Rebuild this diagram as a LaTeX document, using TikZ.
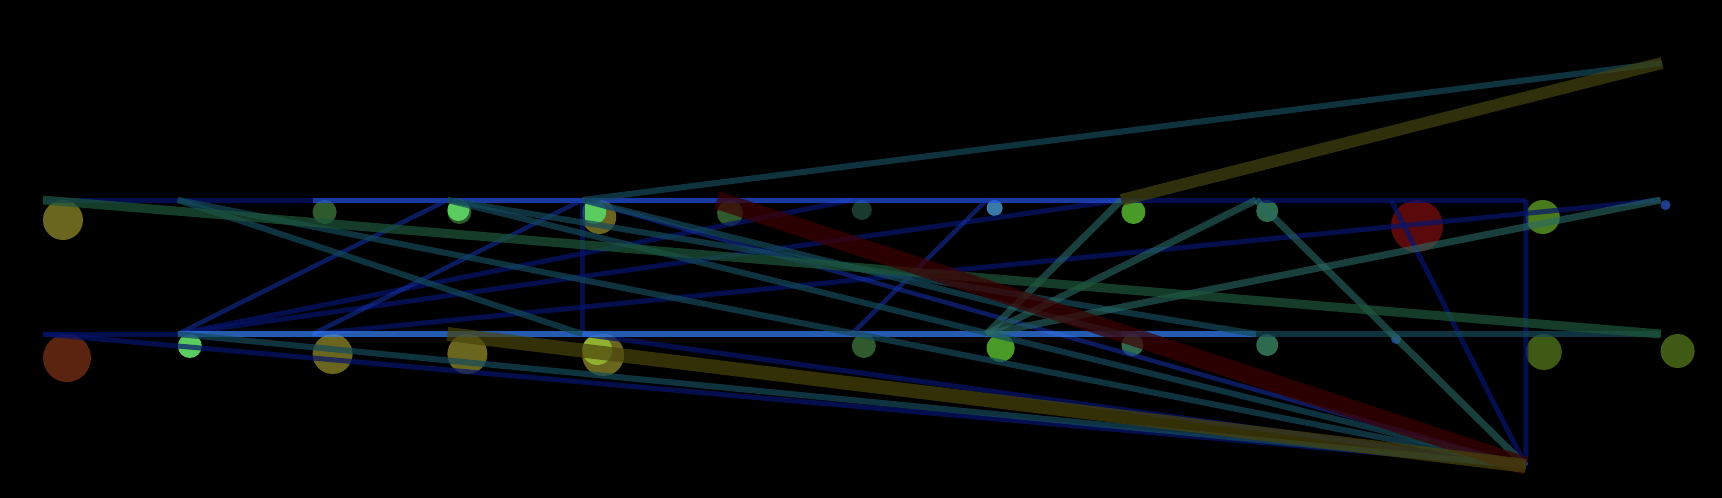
\documentclass[tikz,border=0pt]{standalone}
\usepackage{tikz}
\definecolor{navy}{RGB}{6,20,110}
\definecolor{blueln}{RGB}{37,83,229}
\definecolor{dimblueln}{RGB}{22,50,170}
\definecolor{brightln}{RGB}{55,132,250}
\definecolor{tealln}{RGB}{20,74,91}
\definecolor{mossln}{RGB}{43,106,100}
\definecolor{greenln}{RGB}{29,86,57}
\definecolor{redln}{RGB}{62,0,0}
\definecolor{yellowln}{RGB}{67,67,16}
\definecolor{oliveln}{RGB}{73,67,11}
\definecolor{cOlive}{RGB}{107,102,31}
\definecolor{cRust}{RGB}{90,36,16}
\definecolor{cLime}{RGB}{90,204,96}
\definecolor{cDark}{RGB}{46,90,46}
\definecolor{cMoss}{RGB}{46,106,78}
\definecolor{cSky}{RGB}{58,122,168}
\definecolor{cInk}{RGB}{26,58,48}
\definecolor{cRed}{RGB}{90,10,10}
\definecolor{cGrass}{RGB}{74,122,30}
\definecolor{cLeaf}{RGB}{74,154,42}
\definecolor{cFern}{RGB}{62,90,20}
\definecolor{cBlue}{RGB}{30,62,140}
\definecolor{cPale}{RGB}{144,176,48}
\tikzset{
	navyedge/.style={draw=navy, line width=5pt, draw opacity=0.7},
	blueedge/.style={draw=blueln, line width=5pt, draw opacity=0.7},
	dimblueedge/.style={draw=dimblueln, line width=4.5pt, draw opacity=0.55},
	brightedge/.style={draw=brightln, line width=6pt, draw opacity=0.7},
	tealedge/.style={draw=tealln, line width=6pt, draw opacity=0.7},
	mossedge/.style={draw=mossln, line width=7pt, draw opacity=0.6},
	greenband/.style={draw=greenln, line width=9pt, draw opacity=0.7},
	redband/.style={draw=redln, line width=18pt, draw opacity=0.7},
	yellowband/.style={draw=yellowln, line width=12pt, draw opacity=0.7},
	oliveband/.style={draw=oliveln, line width=14pt, draw opacity=0.7}
}

\begin{document}
\begin{tikzpicture}[x=1pt,y=-1pt]
	\useasboundingbox (0,0) rectangle (1722,498);
	\fill[black] (0,0) rectangle (1722,498);

	\foreach \i in {0,...,12}
	{
		\coordinate (t\i) at ({43+134.8*\i},200);
		\coordinate (b\i) at ({43+134.8*\i},334);
	};
	\coordinate (p) at (1525.8,466);
	\coordinate (r) at (1662,63);

	\foreach \n / \r / \c in {
	t0/20/cOlive, t2/12/cDark, t3/12/cDark, t4/17/cOlive, t5/13/cDark,
	t6/10/cInk, t7/8/cSky, t8/12/cLeaf, t9/11/cMoss, t10/26/cRed,
	t11/17/cGrass, t12/5/cBlue,
	b0/24/cRust, b1/12/cLime, b2/20/cOlive, b3/20/cOlive, b4/21/cOlive,
	b6/12/cDark, b7/14/cLeaf, b8/11/cMoss, b9/11/cMoss, b10/5/cBlue,
	b11/18/cFern, b12/17/cFern}
	{
		\fill[\c] (\n) ++(\r,\r) circle [radius=\r pt];
	};
	\fill[cLime] (t3) ++(11,10) circle [radius=11pt];
	\fill[cLime] (t4) ++(12,12) circle [radius=12pt];
	\fill[cPale] (b4) ++(15,16) circle [radius=15pt];

	\foreach \i / \j in {
	t0/t1, t1/t2, t8/t9, t9/t10, t10/t11,
	b0/b1,
	t4/b4, t11/p,
	b1/t6, b1/t8, b2/t12, t10/p, b0/p, b4/p}
	{
		\path (\i) edge[navyedge] (\j);
	};

	\foreach \i / \j in {
	t2/t3, t3/t4, t4/t5, t5/t6, t6/t7, t7/t8}
	{
		\path (\i) edge[blueedge] (\j);
	};

	\foreach \i / \j in {
	b1/t3, b2/t4, t4/p, t7/b6}
	{
		\path (\i) edge[dimblueedge] (\j);
	};

	\foreach \i / \j in {
	b1/b2, b2/b3, b3/b4, b4/b5, b5/b6, b6/b7, b7/b8, b8/b9}
	{
		\path (\i) edge[brightedge] (\j);
	};

	\foreach \i / \j in {
	b9/b10, b10/b11, b11/b12,
	t1/b4, t1/p, t3/b9, t3/p, t4/b8, t4/r, b1/p}
	{
		\path (\i) edge[tealedge] (\j);
	};

	\foreach \i / \j in {
	b7/t8, b7/t9, b7/t12, t9/p}
	{
		\path (\i) edge[mossedge] (\j);
	};

	\path (t0) edge[greenband] (b12);
	\path (t5) edge[redband] (p);
	\path (t8) edge[yellowband] (r);
	\path (b3) edge[oliveband] (p);
\end{tikzpicture}
\end{document}
